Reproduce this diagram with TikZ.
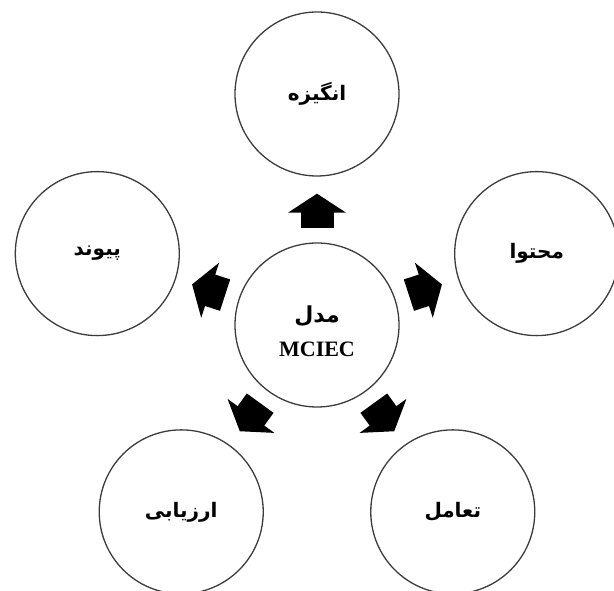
\documentclass[tikz,border=0pt]{standalone}
\usepackage{fontspec}
\setmainfont{Liberation Serif}
\newfontfamily\arabicfont[Script=Arabic,BoldFont={DejaVu Sans Bold}]{DejaVu Sans}
\TeXXeTstate=1
\usetikzlibrary{arrows.meta,calc}
\definecolor{rim}{HTML}{3C3C3C}
\newcommand{\fa}[1]{{\arabicfont\bfseries\beginR #1\endR}}
\tikzset{
  circ/.style = {circle, draw=rim, line width=1.3pt, minimum size=164pt,
                 inner sep=0pt, align=center},
  word/.style = {font=\fontsize{20}{22}\selectfont},
  blk/.style  = {line width=33pt, -{Triangle[width=57pt,length=19pt]},
                 shorten <=14pt, shorten >=17pt},
}

\begin{document}
\begin{tikzpicture}[x=1pt,y=1pt]
  \useasboundingbox (0,0) rectangle (614,591);
  \clip (0,0) rectangle (614,591);
  \node[circ, font=\fontsize{22}{36}\selectfont] (mid) at (317,266)
       {\rule{0pt}{30pt}\fa{مدل}\\[-2pt] \textbf{MCIEC}};
  \node[circ, word] (ang) at ([shift={(90:231pt)}]mid) {\fa{انگیزه}};
  \node[circ, word] (moh) at ([shift={(18:231pt)}]mid) {\fa{محتوا}};
  \node[circ, word] (tam) at ([shift={(-54:231pt)}]mid) {\fa{تعامل}};
  \node[circ, word] (arz) at ([shift={(-126:231pt)}]mid) {\fa{ارزیابی}};
  \node[circ, word] (pey) at ([shift={(162:231pt)}]mid) {\fa{پیوند}};
  \draw[blk] (mid) -- (ang);
  \draw[blk] (mid) -- (moh);
  \draw[blk] (mid) -- (tam);
  \draw[blk] (mid) -- (arz);
  \draw[blk] (mid) -- (pey);
\end{tikzpicture}
\end{document}
